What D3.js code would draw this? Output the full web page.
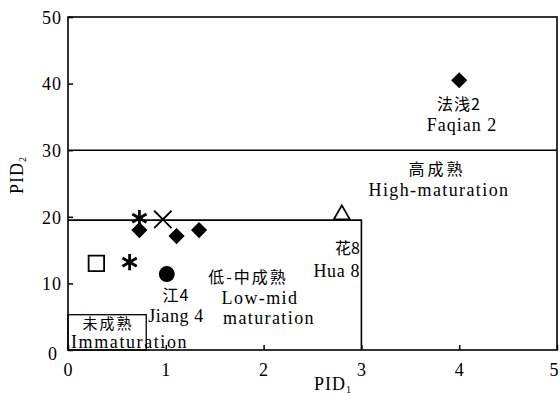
<!DOCTYPE html>
<html>
<head>
<meta charset="utf-8">
<script src="https://cdn.jsdelivr.net/npm/d3@7"></script>
<style>
  html, body { margin: 0; padding: 0; background: #fff; }
  svg { display: block; }
  text { font-family: "Liberation Serif", "Times New Roman", serif; fill: #000; }
  .cjk { font-family: "Noto Sans CJK SC", sans-serif; }
</style>
</head>
<body>
<svg id="chart" width="560" height="396"></svg>
<script>
// Axis ticks
const xTicks = [0, 1, 2, 3, 4, 5];
const yTicks = [0, 10, 20, 30, 40, 50];

// Samples: PID1, PID2, marker type
const sampleNames = ["s1", "s2", "s3", "s4", "s5", "s6", "s7", "Jiang4", "Hua8", "Faqian2"];
const pid1 = [0.29, 0.63, 0.73, 0.73, 0.97, 1.11, 1.34, 1.01, 2.80, 4.00];
const pid2 = [13.0, 13.2, 19.8, 18.0, 19.6, 17.1, 18.0, 11.4, 20.3, 40.5];
const markers = ["square", "asterisk", "asterisk", "diamond", "cross", "diamond", "diamond", "circle", "triangle", "diamond"];

// Maturity zone boundaries
const highBoundary = 30;     // PID2 above this: high maturation
const lowMidTop = 19.5;      // low-mid zone upper PID2
const lowMidRight = 3;       // low-mid zone right PID1
const immatureBox = [0.8, 5.3]; // immature box extent (PID1, PID2)

const svg = d3.select("#chart");
const x = d3.scaleLinear().domain([0, 5]).range([68, 557]);
const y = d3.scaleLinear().domain([0, 50]).range([350, 17]);

const stroke = "#000";

// Frame
svg.append("rect")
  .attr("x", x(0)).attr("y", y(50))
  .attr("width", x(5) - x(0)).attr("height", y(0) - y(50))
  .attr("fill", "none").attr("stroke", stroke).attr("stroke-width", 1.6);

// Axes with inward ticks
const xAxis = svg.append("g")
  .attr("transform", `translate(0,${y(0)})`)
  .call(d3.axisBottom(x).tickValues(xTicks).tickFormat(d3.format("d")).tickSizeInner(-5).tickSizeOuter(0).tickPadding(15));
const yAxis = svg.append("g")
  .attr("transform", `translate(${x(0)},0)`)
  .call(d3.axisLeft(y).tickValues(yTicks).tickFormat(d3.format("d")).tickSizeInner(-5).tickSizeOuter(0).tickPadding(6));
[xAxis, yAxis].forEach(g => {
  g.select(".domain").remove();
  g.selectAll(".tick line").attr("stroke", stroke).attr("stroke-width", 1.5);
  g.selectAll(".tick text").attr("font-size", 18).attr("letter-spacing", 1)
    .attr("font-family", "Liberation Serif, serif").attr("fill", "#000");
});
yAxis.selectAll(".tick text").attr("dy", "0.35em");
// the y-axis zero label sits slightly low and left
yAxis.selectAll(".tick").filter(d => d === 0).select("text").attr("dx", -4).attr("dy", "0.55em");
xAxis.selectAll(".tick text").attr("dy", "0.6em");
// keep the last x label inside the page
xAxis.selectAll(".tick").filter(d => d === 5).select("text").attr("dx", -3);

// Zone boundaries
svg.append("line")
  .attr("x1", x(0)).attr("x2", x(5)).attr("y1", y(highBoundary)).attr("y2", y(highBoundary))
  .attr("stroke", stroke).attr("stroke-width", 1.6);
svg.append("path")
  .attr("d", `M${x(0)},${y(lowMidTop)}H${x(lowMidRight)}V${y(0)}`)
  .attr("fill", "none").attr("stroke", stroke).attr("stroke-width", 1.6);
svg.append("rect")
  .attr("x", x(0)).attr("y", y(immatureBox[1]))
  .attr("width", x(immatureBox[0]) - x(0)).attr("height", y(0) - y(immatureBox[1]))
  .attr("fill", "none").attr("stroke", stroke).attr("stroke-width", 1.3);

// Markers
const sym = d3.symbol();
const pts = svg.append("g");
markers.forEach((m, i) => {
  const cx = x(pid1[i]), cy = y(pid2[i]);
  const g = pts.append("g").attr("transform", `translate(${cx},${cy})`);
  if (m === "diamond") {
    g.append("path").attr("d", sym.type(d3.symbolSquare).size(130)())
      .attr("transform", "rotate(45)").attr("fill", stroke);
  } else if (m === "square") {
    g.append("path").attr("d", sym.type(d3.symbolSquare).size(240)())
      .attr("fill", "#fff").attr("stroke", stroke).attr("stroke-width", 1.8);
  } else if (m === "circle") {
    g.append("path").attr("d", sym.type(d3.symbolCircle).size(200)())
      .attr("fill", stroke);
  } else if (m === "triangle") {
    g.append("path").attr("d", sym.type(d3.symbolTriangle).size(115)())
      .attr("fill", "#fff").attr("stroke", stroke).attr("stroke-width", 1.8);
  } else if (m === "asterisk") {
    g.append("path").attr("d", sym.type(d3.symbolAsterisk).size(190)())
      .attr("fill", "none").attr("stroke", stroke).attr("stroke-width", 2.8);
  } else if (m === "cross") {
    g.append("path").attr("d", sym.type(d3.symbolTimes).size(200)())
      .attr("fill", "none").attr("stroke", stroke).attr("stroke-width", 1.8);
  }
});

// Labels
function label(px, py, str, opts = {}) {
  return svg.append("text")
    .attr("x", px).attr("y", py)
    .attr("text-anchor", opts.anchor || "middle")
    .attr("font-size", opts.size || 18)
    .attr("letter-spacing", opts.ls != null ? opts.ls : (opts.cjk ? 3 : 1.4))
    .attr("class", opts.cjk ? "cjk" : null)
    .text(str);
}
label(459, 110, "法浅2", { cjk: true, size: 16, ls: 1 });
label(462, 131, "Faqian 2", { ls: 1 });
label(437, 175, "高成熟", { cjk: true, size: 16 });
label(439, 196, "High-maturation");
label(248, 283, "低-中成熟", { cjk: true, size: 16, ls: 2 });
label(260, 304, "Low-mid");
label(269, 324, "maturation");
label(176, 301, "江4", { cjk: true, size: 16, ls: 1 });
label(176, 322, "Jiang 4", { ls: 0.6 });
label(360, 254, "花8", { cjk: true, size: 16, anchor: "end", ls: 0 });
label(360, 277, "Hua 8", { anchor: "end", ls: 0.6 });
label(108, 329, "未成熟", { cjk: true, size: 15, ls: 2 });
label(71, 348, "Immaturation", { anchor: "start", ls: 1.6 });

// Axis titles
const t1 = svg.append("text").attr("x", 333).attr("y", 390).attr("text-anchor", "middle")
  .attr("font-size", 18).attr("letter-spacing", 1);
t1.append("tspan").text("PID");
t1.append("tspan").attr("font-size", 10).attr("dy", 3).text("1");
const t2 = svg.append("text").attr("transform", "translate(23,175) rotate(-90)").attr("text-anchor", "middle")
  .attr("font-size", 18).attr("letter-spacing", 1);
t2.append("tspan").text("PID");
t2.append("tspan").attr("font-size", 10).attr("dy", 3).text("2");
</script>
</body>
</html>
